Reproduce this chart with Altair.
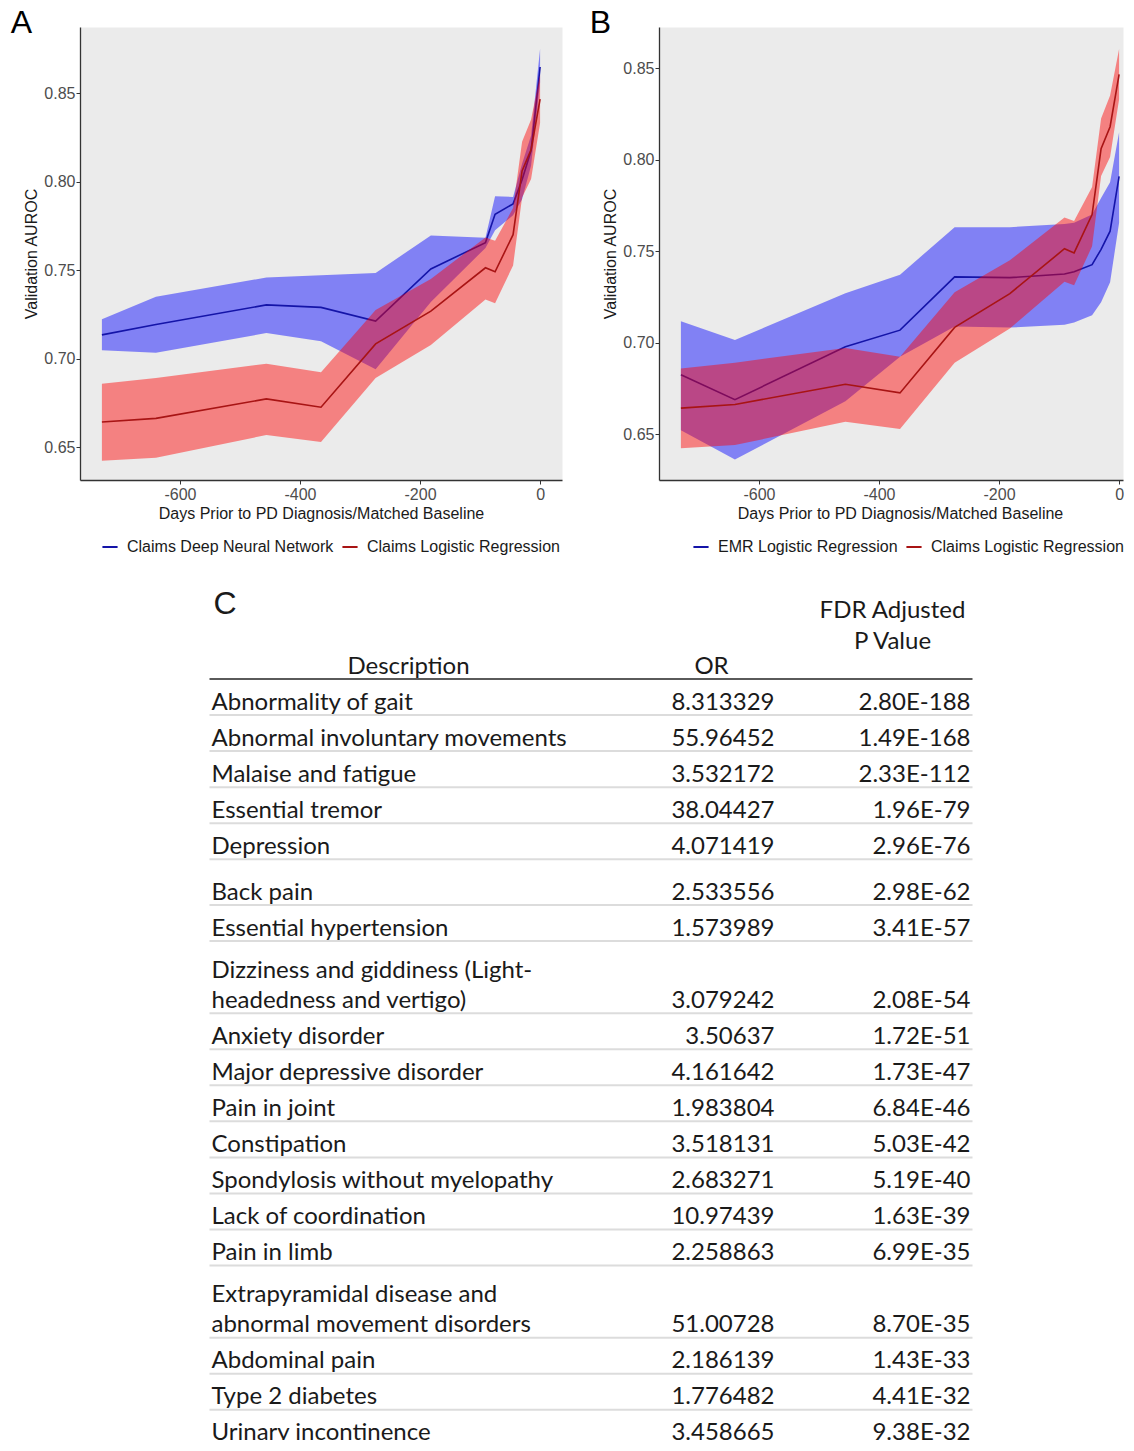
import altair as alt
import pandas as pd

# ---------------- data ----------------
days = [-730, -640, -456, -365, -274, -182, -91, -75, -45, -30, -15, 0]

claims_dnn_mean  = [0.7134, 0.7192, 0.7303, 0.7289, 0.7212, 0.7506, 0.7655, 0.7815, 0.7874, 0.8010, 0.8175, 0.8647]
claims_dnn_lower = [0.7047, 0.7033, 0.7144, 0.7098, 0.6939, 0.7320, 0.7625, 0.7725, 0.7810, 0.7900, 0.8090, 0.8560]
claims_dnn_upper = [0.7222, 0.7349, 0.7458, 0.7470, 0.7484, 0.7695, 0.7683, 0.7917, 0.7913, 0.8100, 0.8260, 0.8750]

claims_lr_mean  = [0.6642, 0.6662, 0.6772, 0.6725, 0.7083, 0.7268, 0.7513, 0.7490, 0.7700, 0.8060, 0.8180, 0.8466]
claims_lr_lower = [0.6423, 0.6440, 0.6568, 0.6528, 0.6890, 0.7077, 0.7333, 0.7313, 0.7526, 0.7910, 0.8014, 0.8330]
claims_lr_upper = [0.6858, 0.6890, 0.6971, 0.6922, 0.7275, 0.7450, 0.7684, 0.7665, 0.7850, 0.8225, 0.8350, 0.8605]

emr_lr_mean  = [0.6824, 0.6688, 0.6977, 0.7068, 0.7359, 0.7355, 0.7375, 0.7387, 0.7426, 0.7510, 0.7609, 0.7908]
emr_lr_lower = [0.6521, 0.6361, 0.6680, 0.6922, 0.7088, 0.7082, 0.7098, 0.7110, 0.7149, 0.7220, 0.7330, 0.7655]
emr_lr_upper = [0.7117, 0.7014, 0.7270, 0.7371, 0.7631, 0.7631, 0.7648, 0.7655, 0.7700, 0.7790, 0.7877, 0.8150]

series_dnn = "Claims Deep Neural Network"
series_lr = "Claims Logistic Regression"
series_emr = "EMR Logistic Regression"

descriptions = [
    "Abnormality of gait",
    "Abnormal involuntary movements",
    "Malaise and fatigue",
    "Essential tremor",
    "Depression",
    "Back pain",
    "Essential hypertension",
    "Dizziness and giddiness (Light-\nheadedness and vertigo)",
    "Anxiety disorder",
    "Major depressive disorder",
    "Pain in joint",
    "Constipation",
    "Spondylosis without myelopathy",
    "Lack of coordination",
    "Pain in limb",
    "Extrapyramidal disease and\nabnormal movement disorders",
    "Abdominal pain",
    "Type 2 diabetes",
    "Urinary incontinence",
]
odds_ratios = [
    "8.313329", "55.96452", "3.532172", "38.04427", "4.071419", "2.533556",
    "1.573989", "3.079242", "3.50637", "4.161642", "1.983804", "3.518131",
    "2.683271", "10.97439", "2.258863", "51.00728", "2.186139", "1.776482",
    "3.458665",
]
p_values = [
    "2.80E-188", "1.49E-168", "2.33E-112", "1.96E-79", "2.96E-76", "2.98E-62",
    "3.41E-57", "2.08E-54", "1.72E-51", "1.73E-47", "6.84E-46", "5.03E-42",
    "5.19E-40", "1.63E-39", "6.99E-35", "8.70E-35", "1.43E-33", "4.41E-32",
    "9.38E-32",
]

# ---------------- styling / layout constants ----------------
AXIS_FONT = "Liberation Sans"
TABLE_FONT = "Lato"
TABLE_SIZE = 24
BLUE_FILL, RED_FILL = "#0000FF", "#FF0000"
BLUE_LINE, RED_LINE = "#1414A8", "#A81414"
PANEL_H = 453

def make_df(name, mean, lo, hi):
    return pd.DataFrame({"series": name, "day": days, "mean": mean, "lo": lo, "hi": hi})

def panel(frames, names, fills, lines, ydom, xmax, width, letter, legend_x):
    df = pd.concat(frames, ignore_index=True)
    xsc = alt.Scale(domain=[-766.5, xmax], nice=False, zero=False)
    ysc = alt.Scale(domain=ydom, nice=False, zero=False)
    xaxis = alt.Axis(values=[-600, -400, -200, 0], labelExpr="datum.value + ''",
                     title="Days Prior to PD Diagnosis/Matched Baseline", grid=False,
                     domainColor="#333333", domainWidth=1.3, tickColor="#333333", tickSize=4,
                     labelColor="#4D4D4D", labelFontSize=16, labelFont=AXIS_FONT, labelPadding=2,
                     titleFont=AXIS_FONT, titleFontSize=16, titleFontWeight="normal",
                     titleColor="#1A1A1A", titlePadding=3, titleX=241, titleAnchor="middle")
    yaxis = alt.Axis(values=[0.65, 0.70, 0.75, 0.80, 0.85], format=".2f",
                     title="Validation AUROC", grid=False,
                     domainColor="#333333", domainWidth=1.3, tickColor="#333333", tickSize=4,
                     labelColor="#4D4D4D", labelFontSize=16, labelFont=AXIS_FONT, labelPadding=1,
                     titleFont=AXIS_FONT, titleFontSize=16, titleFontWeight="normal",
                     titleColor="#1A1A1A", titlePadding=4)
    cscale = alt.Scale(domain=names, range=lines)
    legend = alt.Legend(orient="none", legendX=legend_x, legendY=511, direction="horizontal",
                        columns=2, title=None, symbolType="stroke", symbolStrokeWidth=2,
                        symbolSize=230, labelFontSize=16, labelFont=AXIS_FONT,
                        labelColor="#1A1A1A", labelLimit=500, labelOffset=8,
                        columnPadding=4, padding=0)
    layers = []
    for name, fc in zip(names, fills):
        base = alt.Chart(df).transform_filter(alt.datum.series == name)
        band = base.mark_area(color=fc, opacity=0.45).encode(
            x=alt.X("day:Q", scale=xsc, axis=xaxis),
            y=alt.Y("lo:Q", scale=ysc, axis=yaxis),
            y2="hi:Q",
        )
        line = base.mark_line(strokeWidth=1.6).encode(
            x=alt.X("day:Q", scale=xsc, axis=xaxis),
            y=alt.Y("mean:Q", scale=ysc, axis=yaxis),
            color=alt.Color("series:N", scale=cscale, legend=legend),
        )
        layers += [band, line]
    return alt.layer(*layers).properties(
        width=width, height=PANEL_H,
        view=alt.ViewBackground(fill="#EBEBEB", stroke="transparent"),
        title=alt.TitleParams(text=letter, anchor="start", frame="bounds", fontSize=32,
                              font=AXIS_FONT, fontWeight="normal", color="#000000",
                              offset=-13, dx=-13),
    )

panel_a = panel(
    [make_df(series_dnn, claims_dnn_mean, claims_dnn_lower, claims_dnn_upper),
     make_df(series_lr, claims_lr_mean, claims_lr_lower, claims_lr_upper)],
    [series_dnn, series_lr], [BLUE_FILL, RED_FILL], [BLUE_LINE, RED_LINE],
    [0.6314, 0.8873], 36.5, 482, "A", 21)

panel_b = panel(
    [make_df(series_emr, emr_lr_mean, emr_lr_lower, emr_lr_upper),
     make_df(series_lr, claims_lr_mean, claims_lr_lower, claims_lr_upper)],
    [series_emr, series_lr], [BLUE_FILL, RED_FILL], [BLUE_LINE, RED_LINE],
    [0.6249, 0.8725], 6.5, 464, "B", 33)

top = alt.hconcat(panel_a, panel_b, spacing=26).resolve_scale(color="independent")

# ---------------- table (C) ----------------
ROW_PX = 36.05         # pixel height of one text line / row
LINE_PX = 30           # spacing of wrapped lines
BASE_PX = 5.5          # baseline distance above row separator
ROW_EXTRA = {5: 0.27}  # extra space (rows) before "Back pain"
TL = 80.5              # page x of table plot-area left (layout)
T_TOP = 584            # page y of table plot-area top
T_H = 855
HDR_Y = 678            # page y of header rule
ydom = [-(HDR_Y - T_TOP) / ROW_PX, (T_TOP + T_H - HDR_Y) / ROW_PX]

desc_rows, num_rows, sep_rows = [], [], []
pos = 0.0
for i, (d, o, p) in enumerate(zip(descriptions, odds_ratios, p_values)):
    lines = d.split("\n")
    n = len(lines)
    pos += ROW_EXTRA.get(i, 0.0) + n
    sep_rows.append({"pos": pos})
    for j, ln in enumerate(lines):
        desc_rows.append({"text": ln, "pos": pos - (BASE_PX + (n - 1 - j) * LINE_PX) / ROW_PX})
    num_rows.append({"or": o, "p": p, "pos": pos - BASE_PX / ROW_PX})

desc_df = pd.DataFrame(desc_rows)
num_df = pd.DataFrame(num_rows)
sep_df = pd.DataFrame(sep_rows)
hdr_rule_df = pd.DataFrame({"pos": [0.0]})
hdr_desc_df = pd.DataFrame({"text": ["Description"], "pos": [-5.4 / ROW_PX]})
hdr_or_df = pd.DataFrame({"text": ["OR"], "pos": [-5.4 / ROW_PX]})
hdr_p_df = pd.DataFrame({"text": ["FDR Adjusted", "P Value"], "pos": [-60.7 / ROW_PX, -29.7 / ROW_PX]})
c_df = pd.DataFrame({"text": ["C"], "pos": [-65.0 / ROW_PX]})

ysc_t = alt.Scale(domain=ydom, reverse=True, nice=False, zero=False)
Y = alt.Y("pos:Q", scale=ysc_t, axis=None)

def txt(df, field, x, align, size=TABLE_SIZE, font=TABLE_FONT):
    return alt.Chart(df).mark_text(align=align, baseline="alphabetic", font=font,
                                   fontSize=size, color="#1A1A1A", clip=True).encode(
        x=alt.value(x - TL), y=Y, text=f"{field}:N")

rules = alt.Chart(sep_df).mark_rule(color="#DCDCDC", strokeWidth=2, clip=True).encode(
    x=alt.value(210 - TL), x2=alt.value(973 - TL), y=Y)
hdr_rule = alt.Chart(hdr_rule_df).mark_rule(color="#5A5A5A", strokeWidth=2).encode(
    x=alt.value(210 - TL), x2=alt.value(973 - TL), y=Y)

table = alt.layer(
    rules, hdr_rule,
    txt(desc_df, "text", 212, "left"),
    txt(num_df, "or", 775, "right"),
    txt(num_df, "p", 971, "right"),
    txt(hdr_desc_df, "text", 409, "center"),
    txt(hdr_or_df, "text", 712, "center"),
    txt(hdr_p_df, "text", 893, "center"),
    txt(c_df, "text", 214, "left", size=32, font=AXIS_FONT),
).properties(width=975 - TL, height=T_H)

chart = alt.vconcat(top, table, spacing=28).configure_view(stroke="transparent").properties(
    padding={"left": 2, "top": -2, "right": 0, "bottom": 0}, background="white")

chart.save("out.html", embed_options={"renderer": "svg", "actions": False})
